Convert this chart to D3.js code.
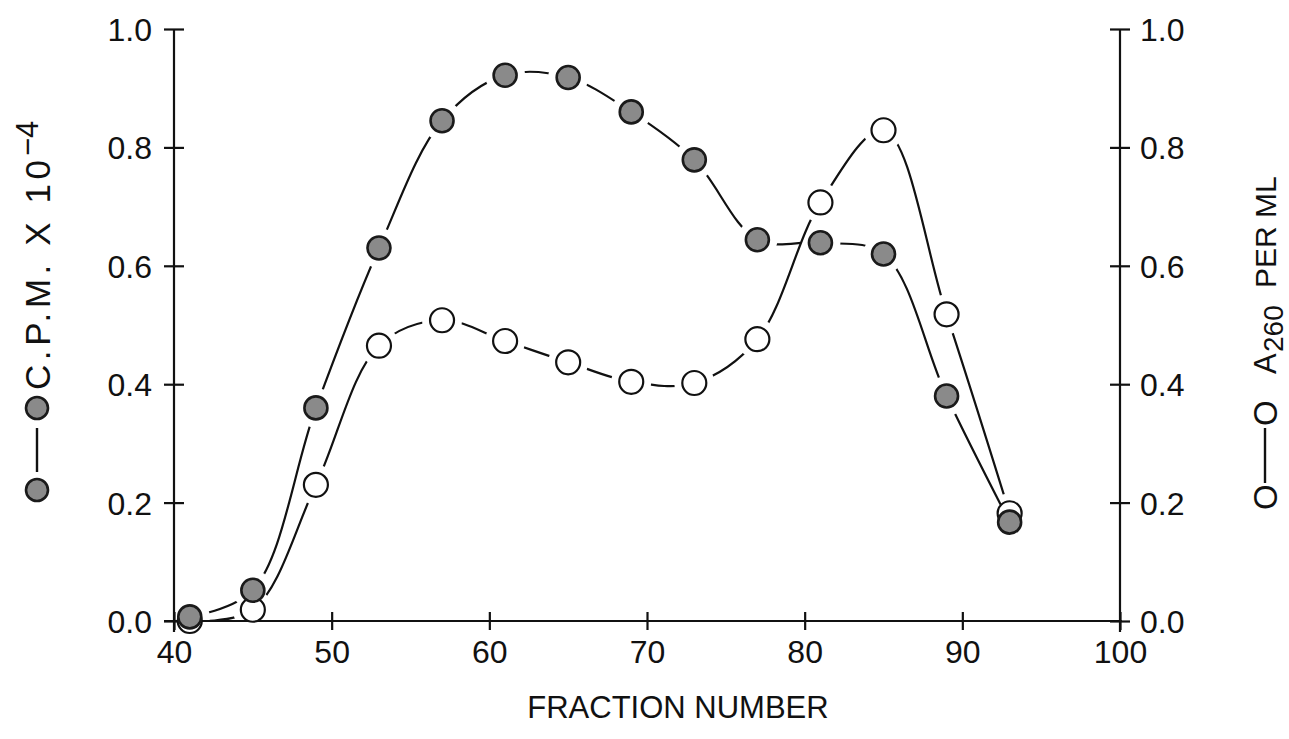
<!DOCTYPE html>
<html>
<head>
<meta charset="utf-8">
<script src="https://cdn.jsdelivr.net/npm/d3@7"></script>
<style>
  html, body { margin: 0; padding: 0; background: #fff; }
  svg { display: block; }
  text { font-family: "Liberation Sans", Arial, Helvetica, sans-serif; fill: #111; }
</style>
</head>
<body>
<svg id="chart" width="1289" height="739"></svg>
<script>
// ---- data ----
const fractions = [41, 45, 49, 53, 57, 61, 65, 69, 73, 77, 81, 85, 89, 93];
const cpmValues = [0.007, 0.052, 0.36, 0.63, 0.845, 0.922, 0.918, 0.860, 0.779, 0.644, 0.639, 0.620, 0.380, 0.167];
const a260Values = [0.0, 0.019, 0.23, 0.465, 0.508, 0.473, 0.437, 0.404, 0.402, 0.476, 0.707, 0.829, 0.518, 0.182];
const xTicks = [40, 50, 60, 70, 80, 90, 100];
const yTicks = [0.0, 0.2, 0.4, 0.6, 0.8, 1.0];
const xTitle = "FRACTION NUMBER";
const leftTitle = "C.P.M. X 10";
const leftSup = "\u22124";
const rightTitleA = "A";
const rightTitleSub = "260";
const rightTitleRest = "PER ML";

// ---- layout ----
const svg = d3.select("#chart");
const pL = 174, pR = 1120, pT = 29, pB = 621;
const x = d3.scaleLinear().domain([40, 100]).range([pL, pR]);
const yL = d3.scaleLinear().domain([0, 1]).range([pB, pT]);
const yR = d3.scaleLinear().domain([0, 1]).range([pB, pT]);
const R = 12;
const ink = "#111";

// axes
const axisW = 2.2;
function styleAxis(g) {
  g.selectAll(".domain").remove();
  g.selectAll("line").attr("stroke", ink).attr("stroke-width", axisW);
  g.selectAll("text").style("font-size", "32px").attr("fill", ink);
}
svg.append("line").attr("x1", pL).attr("x2", pL).attr("y1", pT).attr("y2", pB + 11)
  .attr("stroke", ink).attr("stroke-width", axisW);
svg.append("line").attr("x1", pR).attr("x2", pR).attr("y1", pT).attr("y2", pB + 11)
  .attr("stroke", ink).attr("stroke-width", axisW);
svg.append("line").attr("x1", pL - 10).attr("x2", pR + 2).attr("y1", pB).attr("y2", pB)
  .attr("stroke", ink).attr("stroke-width", axisW);

const gL = svg.append("g").attr("transform", `translate(${pL + 10},0)`)
  .call(d3.axisLeft(yL).tickValues(yTicks).tickFormat(d3.format(".1f")).tickSize(20).tickPadding(12));
styleAxis(gL);
gL.selectAll("text").attr("dy", "0.36em");

const gR = svg.append("g").attr("transform", `translate(${pR - 10},0)`)
  .call(d3.axisRight(yR).tickValues(yTicks).tickFormat(d3.format(".1f")).tickSize(20).tickPadding(10));
styleAxis(gR);
gR.selectAll("text").attr("dy", "0.36em");

const gX = svg.append("g").attr("transform", `translate(0,${pB + 9})`)
  .call(d3.axisBottom(x).tickValues(xTicks).tickFormat(d3.format("d")).tickSize(-18).tickPadding(30));
styleAxis(gX);
gX.selectAll("text").attr("dy", "0.1em");

svg.append("text").attr("x", (x(40) + x(100)) / 2 + 31).attr("y", 718)
  .attr("text-anchor", "middle").style("font-size", "31px").text(xTitle);

// ---- series ----
const cpmData = fractions.map((f, i) => ({ f, v: cpmValues[i] }));
const a260Data = fractions.map((f, i) => ({ f, v: a260Values[i] }));

const defs = svg.append("defs");
function makeMask(id, data, yScale) {
  const m = defs.append("mask").attr("id", id).attr("maskUnits", "userSpaceOnUse")
    .attr("x", 0).attr("y", 0).attr("width", 1289).attr("height", 739);
  m.append("rect").attr("width", 1289).attr("height", 739).attr("fill", "#fff");
  m.selectAll("circle").data(data).join("circle")
    .attr("cx", d => x(d.f)).attr("cy", d => yScale(d.v)).attr("r", R + 8).attr("fill", "#000");
}
makeMask("mCpm", cpmData, yL);
makeMask("mA260", a260Data, yR);

const lineL = d3.line().x(d => x(d.f)).y(d => yL(d.v)).curve(d3.curveCatmullRom.alpha(0.5));
const lineR = d3.line().x(d => x(d.f)).y(d => yR(d.v)).curve(d3.curveCatmullRom.alpha(0.5));

svg.append("path").datum(a260Data).attr("d", lineR).attr("fill", "none")
  .attr("stroke", ink).attr("stroke-width", 2.2).attr("mask", "url(#mA260)");
svg.append("path").datum(cpmData).attr("d", lineL).attr("fill", "none")
  .attr("stroke", ink).attr("stroke-width", 2.2).attr("mask", "url(#mCpm)");

svg.append("g").selectAll("circle").data(a260Data).join("circle")
  .attr("cx", d => x(d.f)).attr("cy", d => yR(d.v)).attr("r", R)
  .attr("fill", "#fff").attr("stroke", ink).attr("stroke-width", 2.2);
svg.append("g").selectAll("circle").data(cpmData).join("circle")
  .attr("cx", d => x(d.f)).attr("cy", d => yL(d.v)).attr("r", R - 0.5)
  .attr("fill", "#8a8a8a").attr("stroke", "#1a1a1a").attr("stroke-width", 2.6);

// ---- left title with legend symbols ----
const lg = svg.append("g");
lg.append("circle").attr("cx", 37).attr("cy", 490).attr("r", 11)
  .attr("fill", "#8a8a8a").attr("stroke", "#1a1a1a").attr("stroke-width", 2.6);
lg.append("line").attr("x1", 37).attr("x2", 37).attr("y1", 472).attr("y2", 428)
  .attr("stroke", ink).attr("stroke-width", 2.4);
lg.append("circle").attr("cx", 37).attr("cy", 408).attr("r", 11)
  .attr("fill", "#8a8a8a").attr("stroke", "#1a1a1a").attr("stroke-width", 2.6);
lg.append("text").attr("transform", "translate(50,390) rotate(-90)")
  .style("font-size", "35px").attr("textLength", 230).attr("lengthAdjust", "spacing")
  .text(leftTitle);
lg.append("text").attr("transform", "translate(38,156) rotate(-90)")
  .style("font-size", "31px").text(leftSup);

// ---- right title ----
const rg = svg.append("g");
rg.append("text").attr("transform", "translate(1277,510) rotate(-90)")
  .style("font-size", "33px").text("O");
rg.append("line").attr("x1", 1265).attr("x2", 1265).attr("y1", 483).attr("y2", 428)
  .attr("stroke", ink).attr("stroke-width", 2.4);
rg.append("text").attr("transform", "translate(1277,426) rotate(-90)")
  .style("font-size", "33px").text("O");
rg.append("text").attr("transform", "translate(1276,374) rotate(-90)")
  .style("font-size", "31px").text(rightTitleA);
rg.append("text").attr("transform", "translate(1283,352) rotate(-90)")
  .style("font-size", "28px").text(rightTitleSub);
rg.append("text").attr("transform", "translate(1276,288) rotate(-90)")
  .style("font-size", "30px").text(rightTitleRest);
</script>
</body>
</html>
